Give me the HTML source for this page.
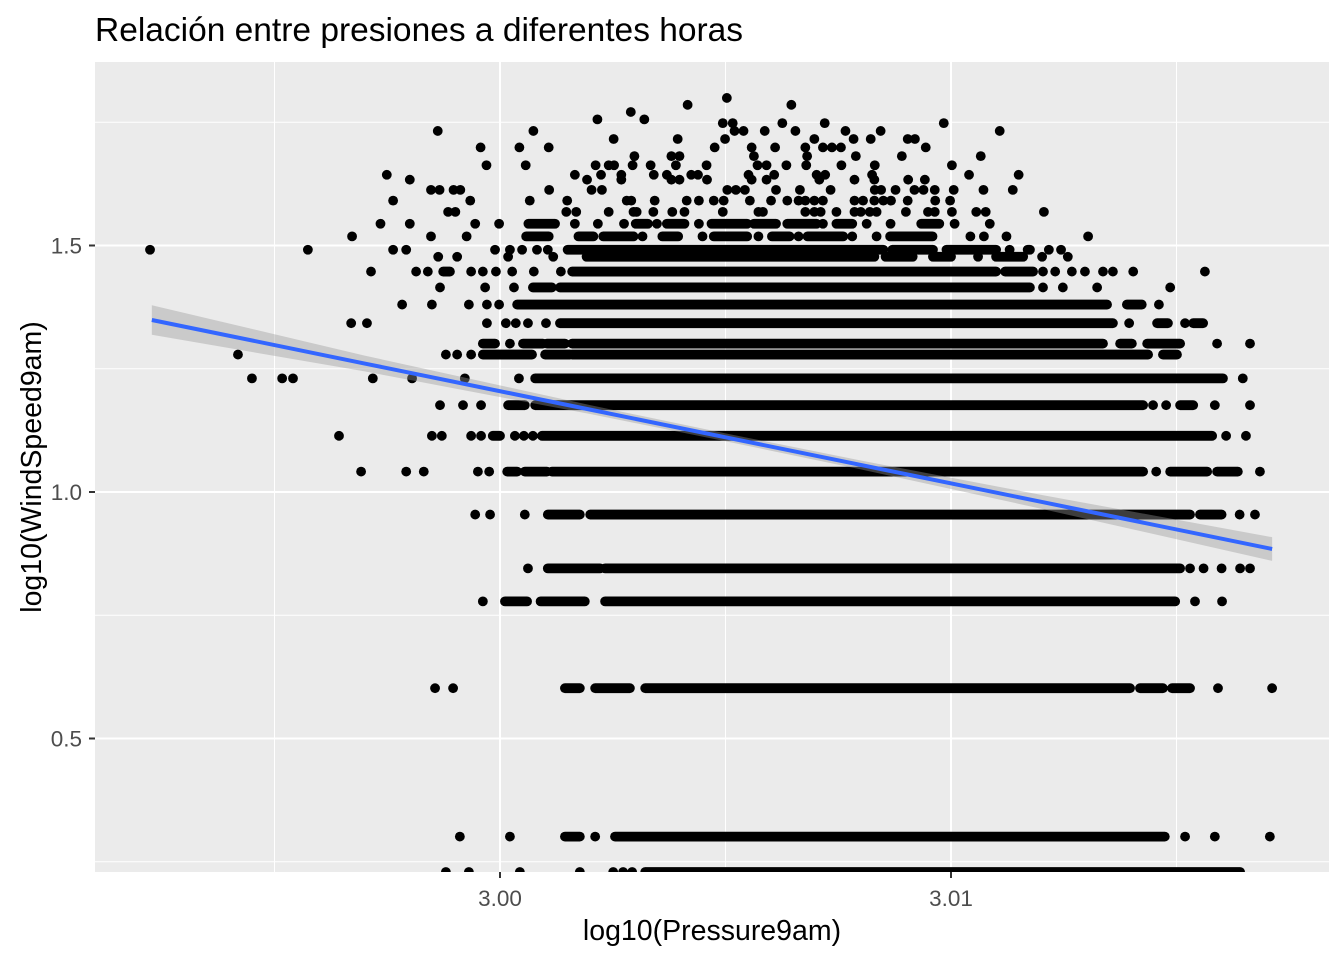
<!DOCTYPE html>
<html><head><meta charset="utf-8"><style>
html,body{margin:0;padding:0;background:#fff;}
svg{display:block;font-family:"Liberation Sans",Arial,sans-serif;}
</style></head><body>
<svg id="chart" width="1344" height="960" viewBox="0 0 1344 960" xmlns="http://www.w3.org/2000/svg">
<defs><clipPath id="pclip"><rect x="95" y="62" width="1234" height="810"/></clipPath></defs>
<rect x="0" y="0" width="1344" height="960" fill="#fff"/>
<rect x="95" y="62" width="1234" height="810" fill="#EBEBEB"/>
<g id="grid"></g>
<g id="pts" clip-path="url(#pclip)"></g>
<g id="smooth" clip-path="url(#pclip)"></g>
<g id="axes"></g>
<text x="95" y="41" font-size="33.5" fill="#000">Relación entre presiones a diferentes horas</text>
<text x="712" y="940" font-size="28.5" fill="#000" text-anchor="middle">log10(Pressure9am)</text>
<text x="0" y="0" font-size="28.5" fill="#000" text-anchor="middle" transform="translate(41,467) rotate(-90)">log10(WindSpeed9am)</text>
</svg>
<script>
// wind speed levels (km/h); 0 => log10 = -Inf drawn at panel edge
const rowSpeed = [63,61,59,57,56,54,52,50,48,46,44,43,41,39,37,35,33,31,30,28,26,24,22,20,19,17,15,13,11,9,7,6,4,2,0];
// log10(Pressure9am) marks per row: number = point, [lo,hi] = run of overlapping points
const rowMarks = [
[3.00503],
[3.00416,3.00646],
[3.00290],
[3.00216,3.00320],
[3.00494,3.00516,3.00626,3.00720,3.00984],
[2.99862,3.00074,3.00520,3.00540,3.00587,3.00655,3.00766,3.00844,3.01108],
[3.00252,3.00394,3.00499,3.00697,3.00784,3.00822,3.00904,3.00920],
[2.99957,3.00043,3.00108,3.00476,3.00558,3.00610,3.00677,3.00716,3.00736,3.00756,3.00944],
[3.00298,3.00380,3.00398,3.00563,3.00681,3.00789,3.00891,3.01066],
[2.99970,3.00057,3.00212,3.00241,3.00253,3.00294,3.00334,3.00390,3.00458,3.00571,3.00591,3.00635,3.00679,3.00757,3.00831,3.01002],
[2.99749,3.00166,3.00224,3.00269,3.00341,3.00370,3.00424,3.00439,3.00551,3.00608,3.00702,3.00721,3.00825,3.01040,3.01150],
[2.99800,3.00193,3.00269,3.00380,3.00398,3.00459,3.00558,3.00591,3.00708,3.00786,3.00830,3.00905,3.00942],
[2.99847,2.99866,2.99897,2.99912,3.00109,3.00203,3.00226,3.00504,3.00523,3.00543,3.00612,3.00665,3.00733,3.00831,3.00845,3.00877,3.00919,3.00939,3.00964,3.01006,3.01072,3.01137],
[2.99763,2.99934,3.00066,3.00149,3.00281,3.00291,3.00343,3.00414,3.00441,3.00474,3.00496,3.00554,3.00601,3.00637,3.00662,3.00677,3.00697,3.00716,3.00786,3.00805,3.00830,3.00850,3.00867,3.00904,3.00965,3.00998],
[2.99885,2.99901,3.00147,3.00169,3.00241,3.00296,3.00303,3.00340,3.00382,3.00409,3.00494,3.00573,3.00583,3.00677,3.00697,3.00711,3.00746,3.00786,3.00800,3.00820,3.00835,3.00900,3.00949,3.00964,3.01002,3.01056,3.01077,3.01206],
[2.99735,2.99800,2.99945,2.99998,[3.00063,3.00122],3.00166,3.00217,3.00275,[3.00301,3.00328],3.00348,[3.00370,3.00409],3.00441,[3.00469,3.00548],[3.00563,3.00612],[3.00637,3.00702],3.00716,[3.00746,3.00781],3.00813,3.00866,[3.00934,3.00974],3.01008,3.01086],
[2.99672,2.99847,2.99926,[3.00058,3.00108],[3.00174,3.00207],[3.00229,3.00296],3.00316,[3.00360,3.00395],3.00449,[3.00474,3.00548],3.00573,[3.00603,3.00642],3.00662,[3.00682,3.00761],3.00781,3.00835,[3.00865,3.00959],3.01043,3.01073,3.01123,3.01304],
[2.99224,2.99574,2.99763,2.99792,2.99989,3.00022,3.00049,3.00082,3.00106,[3.00150,3.00850],[3.00870,3.00960],[3.00990,3.01100],3.01130,[3.01170,3.01175],3.01217,3.01244],
[2.99863,2.99905,3.00018,3.00118,[3.00192,3.00830],[3.00855,3.00915],[3.00960,3.01000],3.01060,[3.01100,3.01160],3.01202,3.01259],
[2.99714,2.99814,2.99840,[2.99874,2.99889],2.99936,2.99962,2.99991,3.00027,3.00075,3.00135,[3.00160,3.01100],[3.01120,3.01182],3.01204,3.01231,3.01268,3.01297,3.01337,3.01359,3.01404,3.01563],
[2.99867,2.99967,3.00031,[3.00073,3.00115],[3.00133,3.01175],3.01204,3.01248,3.01324,3.01486],
[2.99783,2.99849,2.99931,2.99971,2.99998,[3.00038,3.01346],[3.01390,3.01423],3.01461],
[2.99670,2.99705,2.99971,3.00013,3.00035,3.00062,3.00102,[3.00133,3.01359],3.01395,[3.01457,3.01481],3.01519,[3.01537,3.01559]],
[[2.99962,2.99989],3.00022,[3.00051,3.00095],[3.00104,3.00144],[3.00160,3.01337],[3.01375,3.01401],[3.01435,3.01508],3.01590,3.01663],
[2.99419,2.99880,2.99905,2.99936,[2.99962,3.00071],[3.00100,3.00155],[3.00160,3.01437],[3.01470,3.01501]],
[2.99450,2.99517,2.99541,2.99718,2.99805,2.99922,3.00042,[3.00078,3.01603],3.01647],
[2.99867,2.99918,2.99958,[3.00018,3.00055],[3.00078,3.01426],3.01448,3.01477,[3.01508,3.01537],3.01585,3.01663],
[2.99643,2.99849,2.99871,2.99936,2.99958,[2.99984,3.00000],3.00033,3.00053,3.00073,[3.00093,3.01579],3.01610,3.01654],
[2.99692,2.99792,2.99831,2.99951,2.99976,[3.00016,3.00038],[3.00055,3.00104],[3.00115,3.01426],3.01455,[3.01486,3.01568],[3.01590,3.01636],3.01685],
[2.99945,2.99978,3.00055,[3.00106,3.00177],[3.00200,3.01530],[3.01552,3.01600],3.01640,3.01674],
[3.00062,[3.00106,3.00222],[3.00233,3.01508],3.01530,3.01560,3.01600,3.01641,3.01663],
[2.99962,[3.00011,3.00060],[3.00090,3.00188],[3.00233,3.01497],3.01541,3.01601],
[2.99856,2.99896,[3.00144,3.00177],[3.00211,3.00288],[3.00322,3.01397],[3.01419,3.01470],[3.01490,3.01530],3.01592,3.01712],
[2.99911,3.00022,[3.00144,3.00177],3.00211,[3.00255,3.01474],3.01519,3.01585,3.01707],
[2.99880,2.99931,3.00044,3.00177,3.00251,3.00273,3.00293,[3.00322,3.01641]]
];
// linear fit (log-log) with confidence band
const fitX = [2.99228,2.99700,3.00200,3.00500,3.00800,3.01200,3.01712];
const fitY = [1.3489,1.2606,1.1671,1.1110,1.0549,0.9801,0.8844];
const fitSE = [0.030,0.016,0.009,0.008,0.009,0.014,0.024];
const xTicks = [3.00,3.01];
const xTickLabels = ["3.00","3.01"];
const xMinor = [2.995,3.005,3.015];
const yTicks = [0.5,1.0,1.5];
const yTickLabels = ["0.5","1.0","1.5"];
const yMinor = [0.25,0.75,1.25,1.75];

const P = {l:95,r:1329,t:62,b:872};
function sx(v){return 500 + (v-3)*45100;}
function sy(v){return 492 - (v-1)*493;}
function syS(s){const l=Math.log10(s);return isFinite(l)?sy(l):P.b;}
const NS='http://www.w3.org/2000/svg';
function mk(tag,attrs,parent){const e=document.createElementNS(NS,tag);for(const k in attrs)e.setAttribute(k,attrs[k]);parent.appendChild(e);return e;}

const grid=document.getElementById('grid');
xMinor.forEach(v=>{const e=mk('line',{x1:sx(v),x2:sx(v),y1:P.t,y2:P.b,stroke:'#fff','stroke-width':1},grid);

});
yMinor.forEach(v=>{const e=mk('line',{x1:P.l,x2:P.r,y1:sy(v),y2:sy(v),stroke:'#fff','stroke-width':1},grid);

});
xTicks.forEach(v=>{const e=mk('line',{x1:sx(v),x2:sx(v),y1:P.t,y2:P.b,stroke:'#fff','stroke-width':2},grid);

});
yTicks.forEach(v=>{const e=mk('line',{x1:P.l,x2:P.r,y1:sy(v),y2:sy(v),stroke:'#fff','stroke-width':2},grid);

});

const pts=document.getElementById('pts');
rowSpeed.forEach((s,i)=>{
  const y=syS(s);
  rowMarks[i].forEach(m=>{
    let e;
    if(Array.isArray(m)){
      e=mk('line',{x1:sx(m[0]),x2:sx(m[1]),y1:y,y2:y,stroke:'#000','stroke-width':9.8,'stroke-linecap':'round'},pts);
      
    } else {
      e=mk('circle',{cx:sx(m),cy:y,r:4.9,fill:'#000'},pts);
      
    }
    
  });
});

const sm=document.getElementById('smooth');
let up=[],lo=[],ln=[];
fitX.forEach((x,i)=>{up.push(sx(x)+','+sy(fitY[i]+fitSE[i]));lo.push(sx(x)+','+sy(fitY[i]-fitSE[i]));ln.push(sx(x)+','+sy(fitY[i]));});
const band=mk('polygon',{points:up.concat(lo.reverse()).join(' '),fill:'#999999','fill-opacity':0.4},sm);


const fl=mk('polyline',{points:ln.join(' '),fill:'none',stroke:'#3366FF','stroke-width':4},sm);



const ax=document.getElementById('axes');
xTicks.forEach((v,i)=>{
  const t=mk('line',{x1:sx(v),x2:sx(v),y1:P.b,y2:P.b+6,stroke:'#333','stroke-width':2},ax);
  
  
  const l=mk('text',{x:sx(v),y:906,'font-size':22.5,fill:'#4D4D4D','text-anchor':'middle'},ax);
  l.textContent=xTickLabels[i];
  
  
});
yTicks.forEach((v,i)=>{
  const t=mk('line',{x1:P.l-6,x2:P.l,y1:sy(v),y2:sy(v),stroke:'#333','stroke-width':2},ax);
  
  
  const l=mk('text',{x:82,y:sy(v)+8,'font-size':22.5,fill:'#4D4D4D','text-anchor':'end'},ax);
  l.textContent=yTickLabels[i];
  
  
});
</script>
</body></html>
